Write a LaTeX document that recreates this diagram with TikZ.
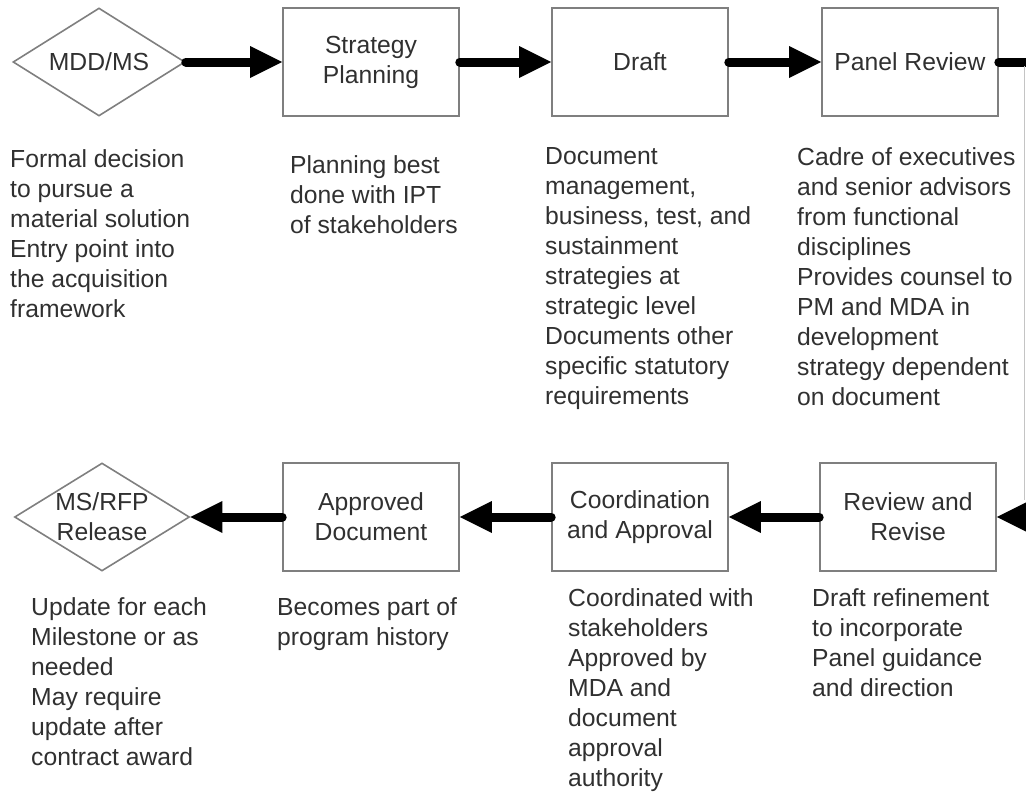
\documentclass[tikz,border=0pt]{standalone}
\usepackage{fontspec}
\setmainfont{Liberation Sans}
\usetikzlibrary{arrows.meta,shapes.geometric}
\definecolor{boxline}{HTML}{7F7F7F}
\definecolor{inktext}{HTML}{303030}
\definecolor{edgeline}{HTML}{C4C4C4}
\begin{document}
\begin{tikzpicture}[x=1pt,y=-1pt,
  every node/.style={font=\fontsize{24.7}{30}\selectfont, text=inktext},
  stepbox/.style={draw=boxline, line width=1.6pt, minimum width=176pt, minimum height=108pt, inner sep=0pt, align=center},
  decision/.style={draw=boxline, line width=1.6pt, diamond, minimum height=108pt, inner sep=0pt},
  caption/.style={align=center, inner sep=0pt},
  note/.style={anchor=north west, align=left, inner sep=0pt},
  flow/.style={line width=9pt, line cap=round, -{Triangle[length=32pt,width=32pt,line width=0pt]}},
]
\useasboundingbox (0,0) rectangle (1026,793);
\clip (0,0) rectangle (1026,793);

% upper row
\node[decision, minimum width=172pt] (mdd) at (99,62) {};
\node[caption] (mddtxt) at (mdd) {MDD/MS};
\node[stepbox] (strat) at (371,62) {Strategy\\Planning};
\node[stepbox] (draft) at (640,62) {Draft};
\node[stepbox] (panel) at (910,62) {Panel Review};

% lower row
\node[decision, minimum width=175pt] (rfp) at (102,517) {};
\node[caption] (rfptxt) at (rfp) {MS/RFP\\Release};
\node[stepbox] (appr) at (371,517) {Approved\\Document};
\node[stepbox] (coord) at (640,517) {Coordination\\and Approval};
\node[stepbox] (revise) at (908,517) {Review and\\Revise};

% notes under the steps (top edge = first baseline minus ascender height)
\node[note] (mddnote) at (10,149) {Formal decision\\to pursue a\\material solution\\Entry point into\\the acquisition\\framework};
\node[note] (stratnote) at (290,155) {Planning best\\done with IPT\\of stakeholders};
\node[note] (draftnote) at (545,147) {Document\\management,\\business, test, and\\sustainment\\strategies at\\strategic level\\Documents other\\specific statutory\\requirements};
\node[note] (panelnote) at (797,147) {Cadre of executives\\and senior advisors\\from functional\\disciplines\\Provides counsel to\\PM and MDA in\\development\\strategy dependent\\on document};
\node[note] (rfpnote) at (31,597) {Update for each\\Milestone or as\\needed\\May require\\update after\\contract award};
\node[note] (apprnote) at (277,597) {Becomes part of\\program history};
\node[note] (coordnote) at (568,588) {Coordinated with\\stakeholders\\Approved by\\MDA and\\document\\approval\\authority};
\node[note] (revisenote) at (812,588) {Draft refinement\\to incorporate\\Panel guidance\\and direction};

% connectors
\coordinate (turntop) at (1050,62);
\coordinate (turnbot) at (1050,517);
\draw[flow] (mdd.east) -- (strat.west);
\draw[flow] (strat.east) -- (draft.west);
\draw[flow] (draft.east) -- (panel.west);
\draw[flow] (panel.east) -- (turntop) -- (turnbot) -- (revise.east);
\draw[flow] (revise.west) -- (coord.east);
\draw[flow] (coord.west) -- (appr.east);
\draw[flow] (appr.west) -- (rfp.east);

% thin rule along the right edge
\coordinate (edgetop) at (1024.5,66);
\coordinate (edgebot) at (1024.5,500);
\draw[edgeline, line width=1pt] (edgetop) -- (edgebot);
\end{tikzpicture}
\end{document}
